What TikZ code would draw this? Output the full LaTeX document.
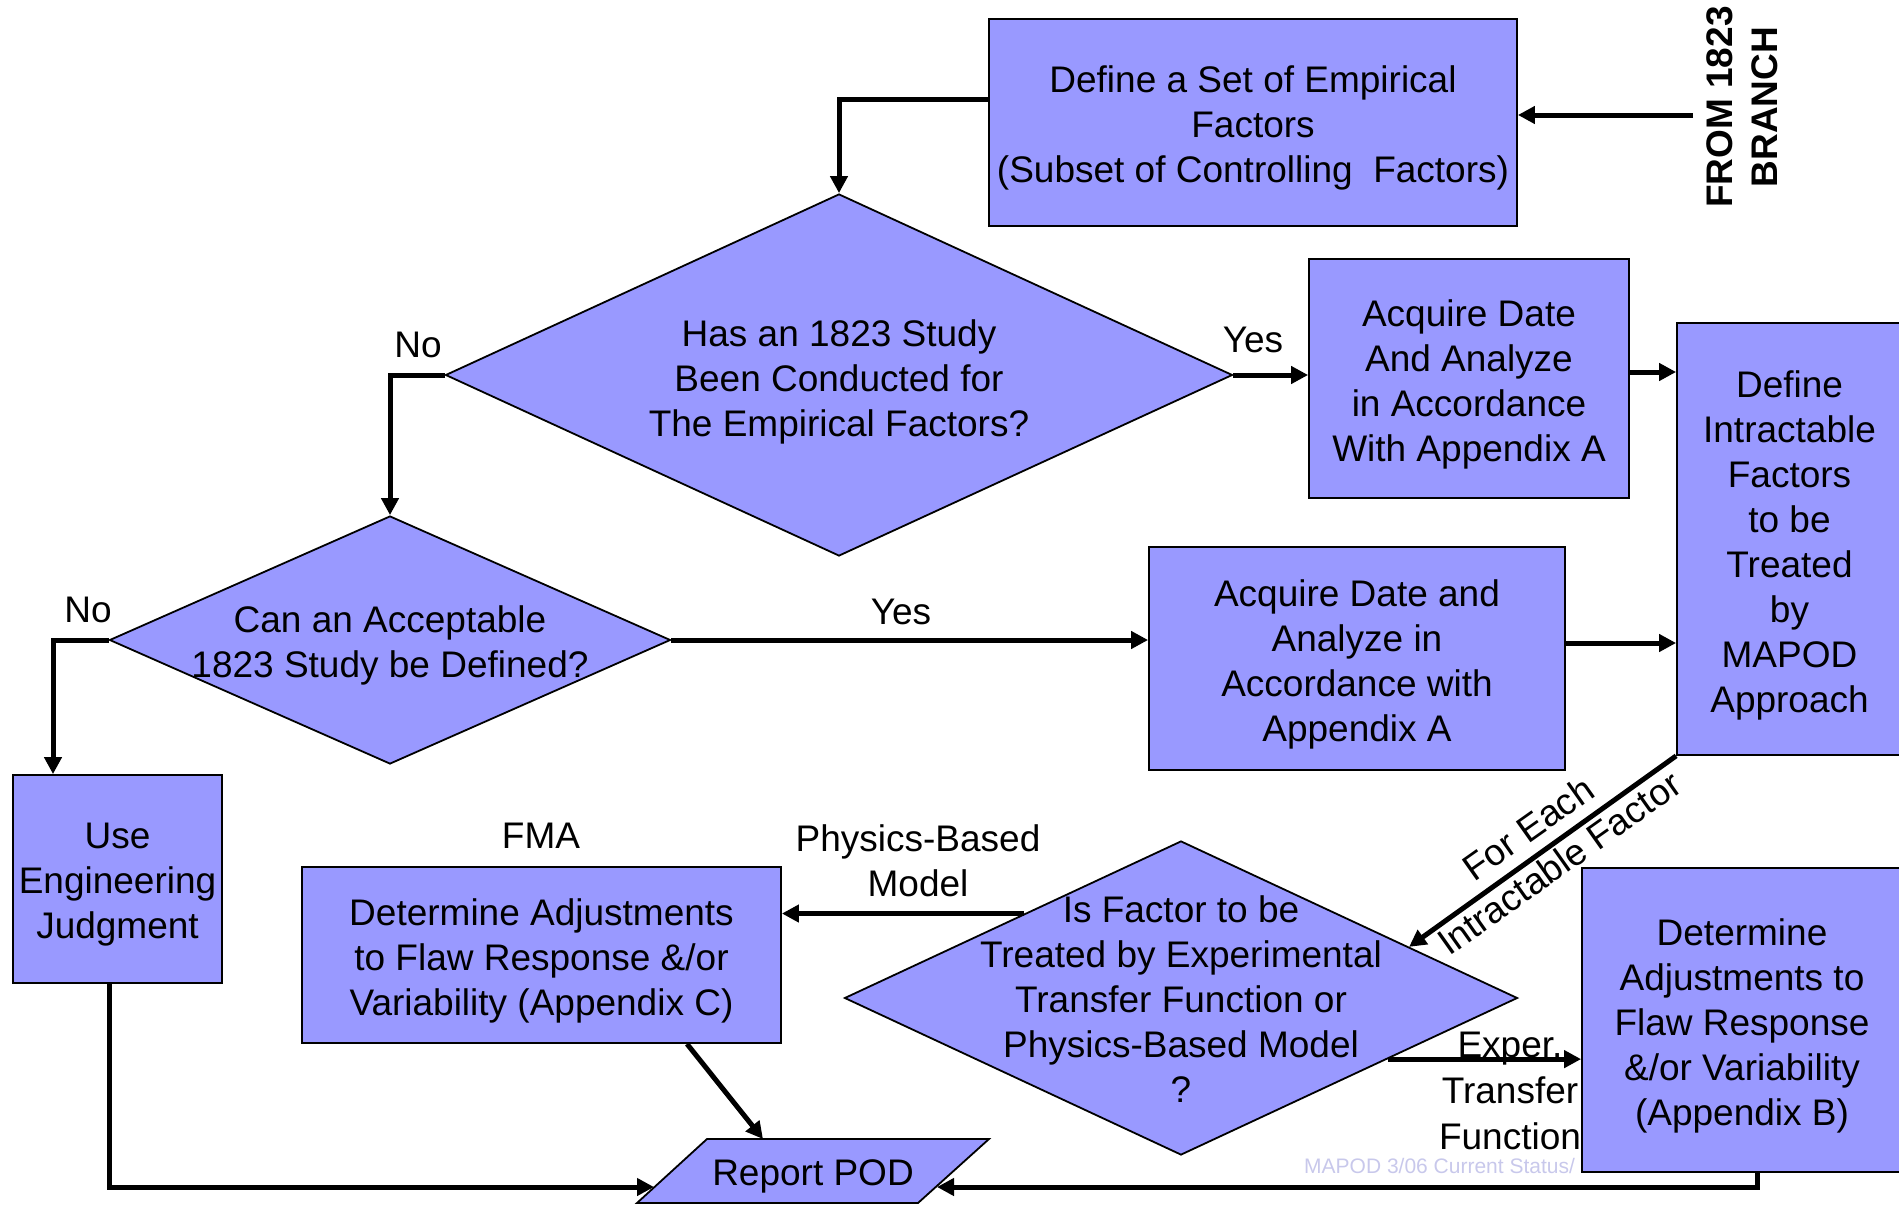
\documentclass[tikz,border=0pt]{standalone}
\usepackage{fontspec}
\setmainfont{Liberation Sans}
\usetikzlibrary{arrows.meta,calc,shapes.geometric}
\definecolor{boxfill}{RGB}{153,153,255}
\definecolor{footcol}{RGB}{200,200,235}
\begin{document}
\begin{tikzpicture}[x=1pt,y=-1pt,
  txt/.style={font=\fontsize{37}{45}\selectfont, align=center, inner sep=0pt},
  box/.style={draw=black, line width=1.8pt, fill=boxfill, rectangle, inner sep=0pt},
  dia/.style={diamond, draw=black, line width=1.8pt, fill=boxfill, inner sep=0pt},
  conn/.style={line width=5pt, -{Triangle[length=17pt,width=17pt]}}
]
\useasboundingbox (0,0) rectangle (1899,1205);

% footer (behind box B)
\node[font=\fontsize{21}{25}\selectfont, text=footcol, anchor=west, inner sep=0pt] (foot) at (1304,1166) {MAPOD 3/06 Current Status/};

% boxes
\node[box, minimum width=528pt, minimum height=207pt,
  label={[txt,yshift=-5pt]center:{Define a Set of Empirical\\Factors\\(Subset of Controlling~~Factors)}}] (top) at (1253,122.5) {};
\node[box, minimum width=320pt, minimum height=239pt,
  label={[txt,yshift=-6pt]center:{Acquire Date\\And Analyze\\in Accordance\\With Appendix A}}] (a1) at (1469,378.5) {};
\node[box, minimum width=225pt, minimum height=432pt,
  label={[txt,yshift=-6pt]center:{Define\\Intractable\\Factors\\to be\\Treated\\by\\MAPOD\\Approach}}] (mapod) at (1789.5,539) {};
\node[box, minimum width=416pt, minimum height=223pt,
  label={[txt,yshift=-6pt]center:{Acquire Date and\\Analyze in\\Accordance with\\Appendix A}}] (a2) at (1357,658.5) {};
\node[box, minimum width=209pt, minimum height=208pt,
  label={[txt,yshift=-6pt]center:{Use\\Engineering\\Judgment}}] (uej) at (117.5,879) {};
\node[box, minimum width=479pt, minimum height=176pt,
  label={[txt,yshift=-6pt]center:{Determine Adjustments\\to Flaw Response \&/or\\Variability (Appendix C)}}] (fma) at (541.5,955) {};
\node[box, minimum width=320pt, minimum height=304pt,
  label={[txt,yshift=-6pt]center:{Determine\\Adjustments to\\Flaw Response\\\&/or Variability\\(Appendix B)}}] (b) at (1742,1020) {};

% diamonds
\node[dia, minimum width=787pt, minimum height=362pt,
  label={[txt,yshift=-7pt]center:{Has an 1823 Study\\Been Conducted for\\The Empirical Factors?}}] (d1) at (839,375) {};
\node[dia, minimum width=561pt, minimum height=248pt,
  label={[txt,yshift=-5pt]center:{Can an Acceptable\\1823 Study be Defined?}}] (d2) at (390,640) {};
\node[dia, minimum width=673pt, minimum height=314pt,
  label={[txt,yshift=-1pt]center:{Is Factor to be\\Treated by Experimental\\Transfer Function or\\Physics-Based Model\\?}}] (d3) at (1181,998) {};

% report POD parallelogram
\path[draw=black, line width=1.8pt, fill=boxfill] (707,1139) -- (989,1139) -- (918,1203) -- (637,1203) -- cycle;
\node[txt] (rp) at (813,1176) {Report POD};
\coordinate (rpL) at (654,1187);
\coordinate (rpR) at (937,1187);
\coordinate (rpT) at (763,1139);

% labels
\node[txt, font=\fontsize{37}{45}\selectfont\bfseries, rotate=90] (from) at (1742,107) {FROM 1823\\BRANCH};
\node[txt] (yes1) at (1253,340) {Yes};
\node[txt] (no1) at (418,345) {No};
\node[txt] (no2) at (88,610) {No};
\node[txt] (yes2) at (901,612) {Yes};
\node[txt] (fmal) at (541,836) {FMA};
\node[txt] (phys) at (918,861) {Physics-Based\\Model};
\node[txt, font=\fontsize{37}{46}\selectfont] (exper) at (1510,1091) {Exper.\\Transfer\\Function};
\node[txt, rotate=35.3] (fe) at (1528,828) {For Each};
\node[txt, rotate=35.3] (itf) at (1559,863) {Intractable Factor};

% connectors
\coordinate (frm) at (1693,115);
\draw[conn] (frm) -- (frm -| top.east);
\draw[conn] ([yshift=23.5pt]top.west) -| (d1.north);
\draw[conn] (d1.east) -- (d1.east -| a1.west);
\draw[conn] ([yshift=6.5pt]a1.east) -- ([yshift=6.5pt]a1.east -| mapod.west);
\draw[conn] (d1.west) -| (d2.north);
\draw[conn] (d2.east) -- (d2.east -| a2.west);
\draw[conn] ([yshift=15.5pt]a2.east) -- ([yshift=15.5pt]a2.east -| mapod.west);
\draw[conn] (d2.west) -| ([xshift=-64.5pt]uej.north);
\coordinate (d3ur) at ($(d3.north)!0.676!(d3.east)$);
\draw[conn] (mapod.south west) -- (d3ur);
\coordinate (d3ul) at ($(d3.west)!0.535!(d3.north)$);
\draw[conn] (d3ul) -- (d3ul -| fma.east);
\coordinate (d3lr) at ($(d3.east)!0.387!(d3.south)$);
\draw[conn] (d3lr) -- (d3lr -| b.west);
\draw[conn] ([xshift=145.5pt]fma.south) -- (rpT);
\draw[conn] ([xshift=-8.5pt]uej.south) |- (rpL);
\draw[conn] ([xshift=15pt]b.south) |- (rpR);
\end{tikzpicture}
\end{document}
